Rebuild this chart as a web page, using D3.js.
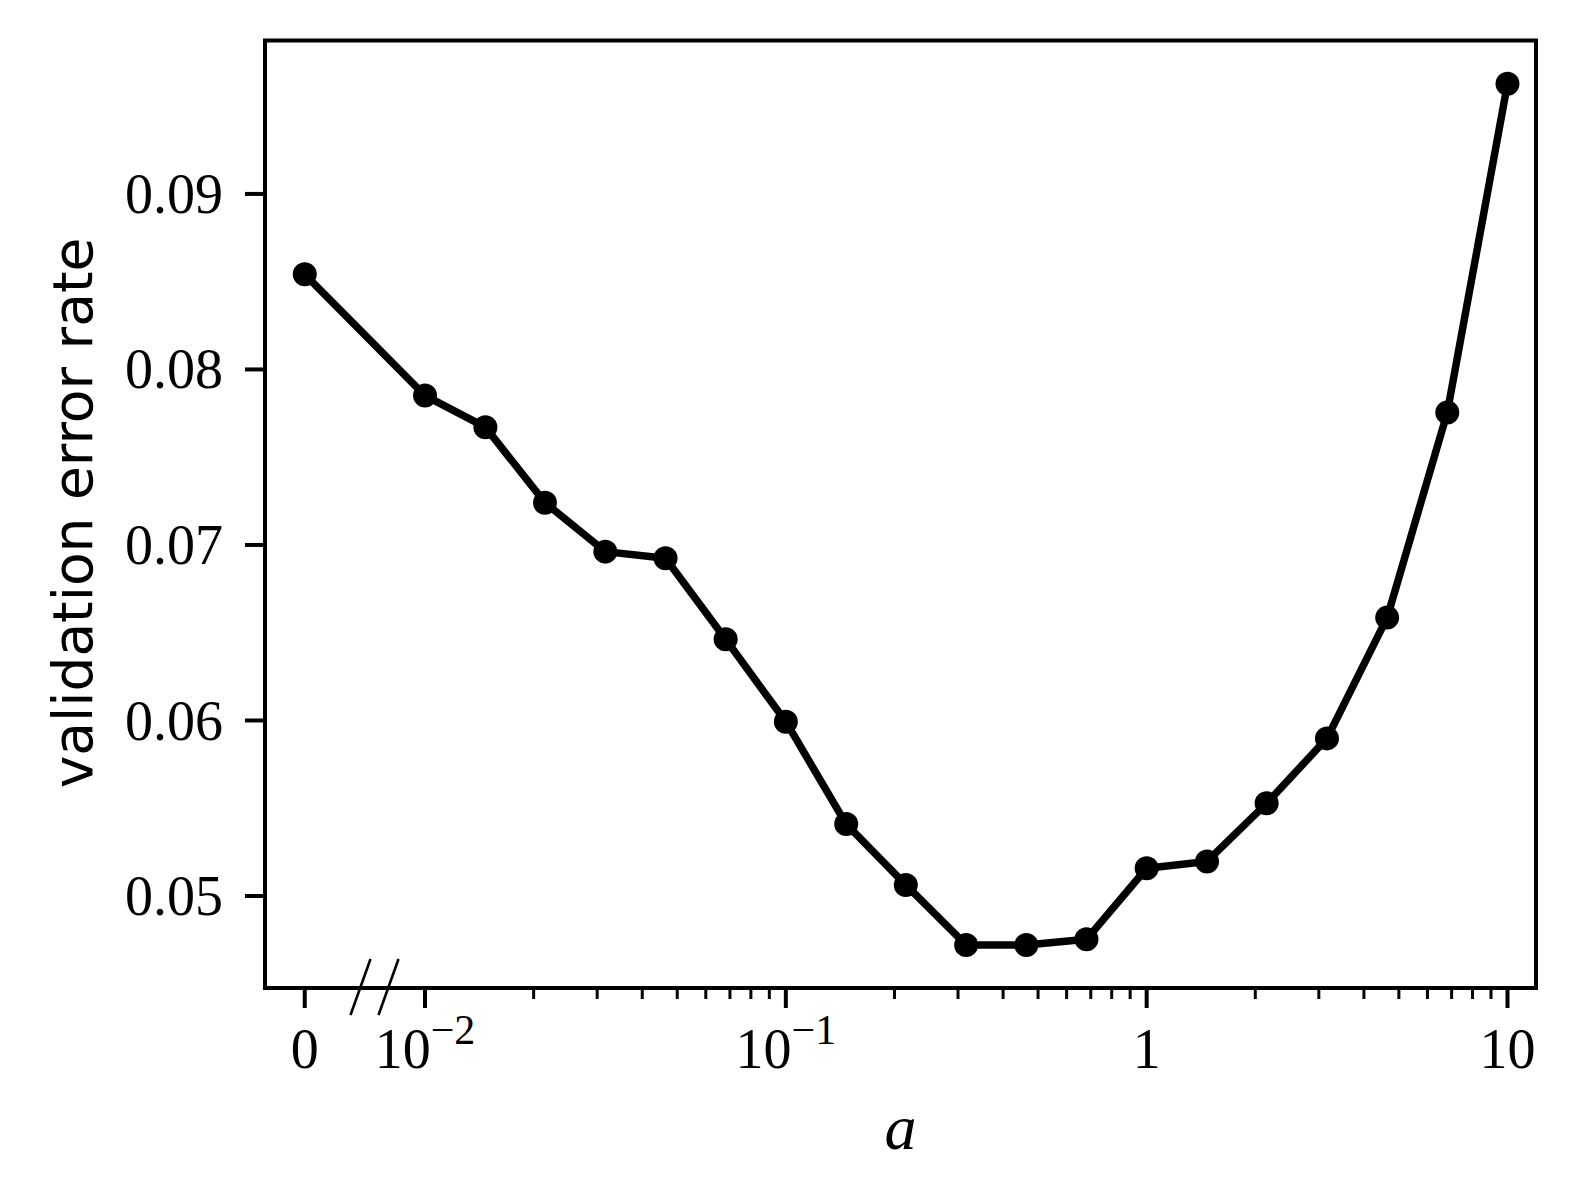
<!DOCTYPE html>
<html>
<head>
<meta charset="utf-8">
<script src="https://cdn.jsdelivr.net/npm/d3@7"></script>
<style>
  body { margin: 0; background: #fff; }
  svg { display: block; }
</style>
</head>
<body>
<div id="chart"></div>
<script>
// values of a (0 is drawn at a fake position left of the axis break)
var aValues = [0, 0.01, 0.0147, 0.0215, 0.0316, 0.0464, 0.0681, 0.1, 0.147, 0.215,
               0.316, 0.464, 0.681, 1, 1.47, 2.15, 3.16, 4.64, 6.81, 10];
var errRate = [0.08542, 0.07851, 0.07671, 0.07241, 0.06962, 0.06924, 0.06463, 0.05993,
               0.05410, 0.05063, 0.04721, 0.04721, 0.04753, 0.05158, 0.05197, 0.05528,
               0.05898, 0.06586, 0.07755, 0.09628];
var xTicks = [0.01, 0.1, 1, 10];
var xTickLabels = [["10", "\u22122"], ["10", "\u22121"], ["1", ""], ["10", ""]];
var yTicks = [0.05, 0.06, 0.07, 0.08, 0.09];

var width = 1577, height = 1203;
var pLeft = 265, pRight = 1536, pTop = 40.5, pBottom = 988;
var zeroAt = Math.pow(10, -7 / 3);   // where "0" sits on the log axis
var breakAt = Math.pow(10, -2.14);

var serif = "'Liberation Serif', 'DejaVu Serif', serif";

var svg = d3.select("#chart").append("svg")
    .attr("width", width)
    .attr("height", height);

var x = d3.scaleLog()
    .domain([Math.pow(10, -2.4435), Math.pow(10, 1.079)])
    .range([pLeft, pRight]);
var y = d3.scaleLinear()
    .domain([0.044758, 0.098741])
    .range([pBottom, pTop]);

function xPos(a) { return a === 0 ? x(zeroAt) : x(a); }

var pts = aValues.map(function(a, i) { return [xPos(a), y(errRate[i])]; });

// line + markers
svg.append("path")
    .attr("d", d3.line()(pts))
    .attr("fill", "none")
    .attr("stroke", "#000")
    .attr("stroke-width", 7.5)
    .attr("stroke-linejoin", "round");
svg.selectAll("circle.pt").data(pts).enter().append("circle")
    .attr("class", "pt")
    .attr("cx", function(d) { return d[0]; })
    .attr("cy", function(d) { return d[1]; })
    .attr("r", 12)
    .attr("fill", "#000");

// frame
svg.append("rect")
    .attr("x", pLeft).attr("y", pTop)
    .attr("width", pRight - pLeft).attr("height", pBottom - pTop)
    .attr("fill", "none")
    .attr("stroke", "#000")
    .attr("stroke-width", 4);

// y ticks
var yAxis = svg.append("g");
yTicks.forEach(function(t) {
  yAxis.append("line")
      .attr("x1", pLeft).attr("x2", pLeft - 20)
      .attr("y1", y(t)).attr("y2", y(t))
      .attr("stroke", "#000").attr("stroke-width", 4);
  yAxis.append("text")
      .attr("x", pLeft - 42)
      .attr("y", y(t))
      .attr("dy", "0.34em")
      .attr("text-anchor", "end")
      .style("font-family", serif)
      .style("font-size", "56px")
      .text(t.toFixed(2));
});

// x ticks: major, minor, and the zero tick
var xAxis = svg.append("g");
var minor = [];
[0.01, 0.1, 1].forEach(function(dec) {
  for (var k = 2; k <= 9; k++) minor.push(dec * k);
});
minor.forEach(function(m) {
  xAxis.append("line")
      .attr("x1", x(m)).attr("x2", x(m))
      .attr("y1", pBottom).attr("y2", pBottom + 11)
      .attr("stroke", "#000").attr("stroke-width", 3);
});
[zeroAt].concat(xTicks).forEach(function(t) {
  xAxis.append("line")
      .attr("x1", x(t)).attr("x2", x(t))
      .attr("y1", pBottom).attr("y2", pBottom + 20)
      .attr("stroke", "#000").attr("stroke-width", 4);
});
xAxis.append("text")
    .attr("x", x(zeroAt)).attr("y", 1068)
    .attr("text-anchor", "middle")
    .style("font-family", serif).style("font-size", "56px")
    .text("0");
xTicks.forEach(function(t, i) {
  var lab = xAxis.append("text")
      .attr("x", x(t)).attr("y", 1068)
      .attr("text-anchor", "middle")
      .style("font-family", serif).style("font-size", "56px");
  lab.append("tspan").text(xTickLabels[i][0]);
  if (xTickLabels[i][1]) {
    lab.append("tspan")
        .attr("dy", -24)
        .style("font-size", "42px")
        .text(xTickLabels[i][1]);
  }
});

// axis break marks
[-14, 14].forEach(function(off) {
  var bx = x(breakAt) + off;
  svg.append("line")
      .attr("x1", bx - 10).attr("y1", pBottom + 27)
      .attr("x2", bx + 10).attr("y2", pBottom - 29)
      .attr("stroke", "#000").attr("stroke-width", 2.6);
});

// axis labels
svg.append("text")
    .attr("x", (pLeft + pRight) / 2).attr("y", 1149)
    .attr("text-anchor", "middle")
    .style("font-family", serif)
    .style("font-style", "italic")
    .style("font-size", "64px")
    .text("a");
svg.append("text")
    .attr("transform", "translate(92,513) rotate(-90)")
    .attr("text-anchor", "middle")
    .style("font-family", "'DejaVu Sans', sans-serif")
    .style("font-size", "55px")
    .text("validation error rate");
</script>
</body>
</html>
